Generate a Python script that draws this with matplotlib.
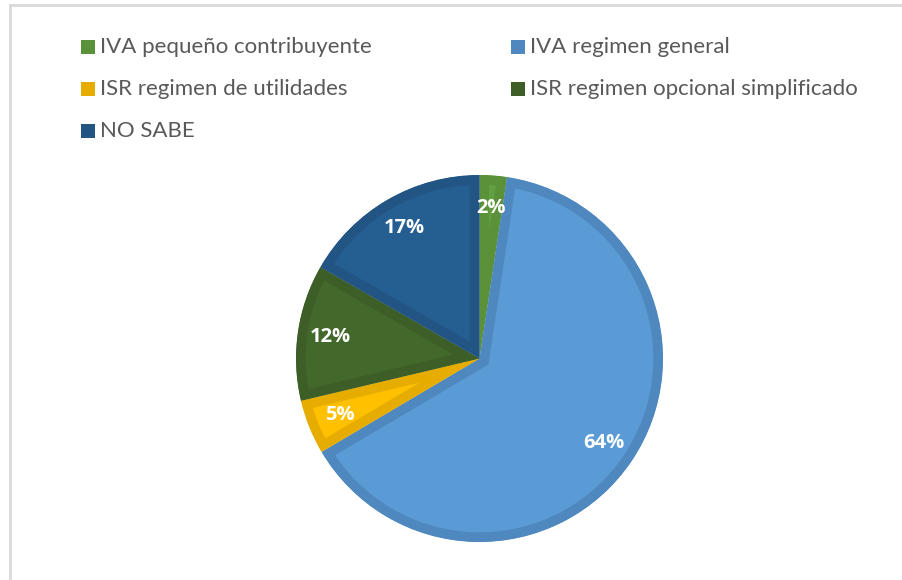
import matplotlib.pyplot as plt
from matplotlib.patches import Rectangle
from matplotlib.lines import Line2D

labels = ['IVA pequeño contribuyente', 'IVA regimen general',
          'ISR regimen de utilidades', 'ISR regimen opcional simplificado',
          'NO SABE']
values = [2.4, 64.1, 4.8, 12.0, 16.7]
faces = ['#63a043', '#5b9bd5', '#ffc000', '#43682b', '#255e91']
edges = ['#5a9139', '#4f88bf', '#e6ad00', '#3d5e27', '#225584']

W, H = 902, 580
fig = plt.figure(figsize=(W / 100, H / 100), dpi=100)

# pie: centre (479.5, 358.5) px, radius 183.5 px
cx, cy, r = 479.5, 358.5, 183.5
ax = fig.add_axes([(cx - r) / W, (H - cy - r) / H, 2 * r / W, 2 * r / H])
wedges, texts, autotexts = ax.pie(values, colors=faces, startangle=90,
                                  counterclock=False, radius=1,
                                  autopct=lambda p: f'{p:.0f}%', pctdistance=0.82,
                                  textprops=dict(color='white', fontsize=14.5,
                                                 fontweight='bold',
                                                 family=['Open Sans', 'DejaVu Sans']))
# darker inner border on every slice (stroke clipped to the slice itself)
for w, ec in zip(wedges, edges):
    w.set_edgecolor(ec)
    w.set_linewidth(14)
    w.set_clip_on(True)
    w.set_clip_path(w)
ax.set_xlim(-1, 1)
ax.set_ylim(-1, 1)
ax.set_aspect('equal')
ax.axis('off')

# legend, filled row by row
col_x = [81, 511]
row_y = [47, 89, 131]
for i, (lab, ec) in enumerate(zip(labels, edges)):
    x = col_x[i % 2]
    y = row_y[i // 2]
    fig.patches.append(Rectangle((x / W, (H - y - 7) / H), 14 / W, 14 / H,
                                 transform=fig.transFigure, facecolor=ec,
                                 edgecolor='none'))
    fig.text((x + 19) / W, (H - y) / H, lab, fontsize=16, color='#595959',
             family=['Lato', 'DejaVu Sans'], va='center', ha='left')

# chart frame (left and top edges visible)
fig.lines.append(Line2D([10 / W, 10 / W], [0, (H - 5) / H], transform=fig.transFigure,
                        color='#d9d9d9', lw=2))
fig.lines.append(Line2D([10 / W, 1], [(H - 5) / H, (H - 5) / H], transform=fig.transFigure,
                        color='#d9d9d9', lw=2))

fig.savefig('out.png', dpi=100)
